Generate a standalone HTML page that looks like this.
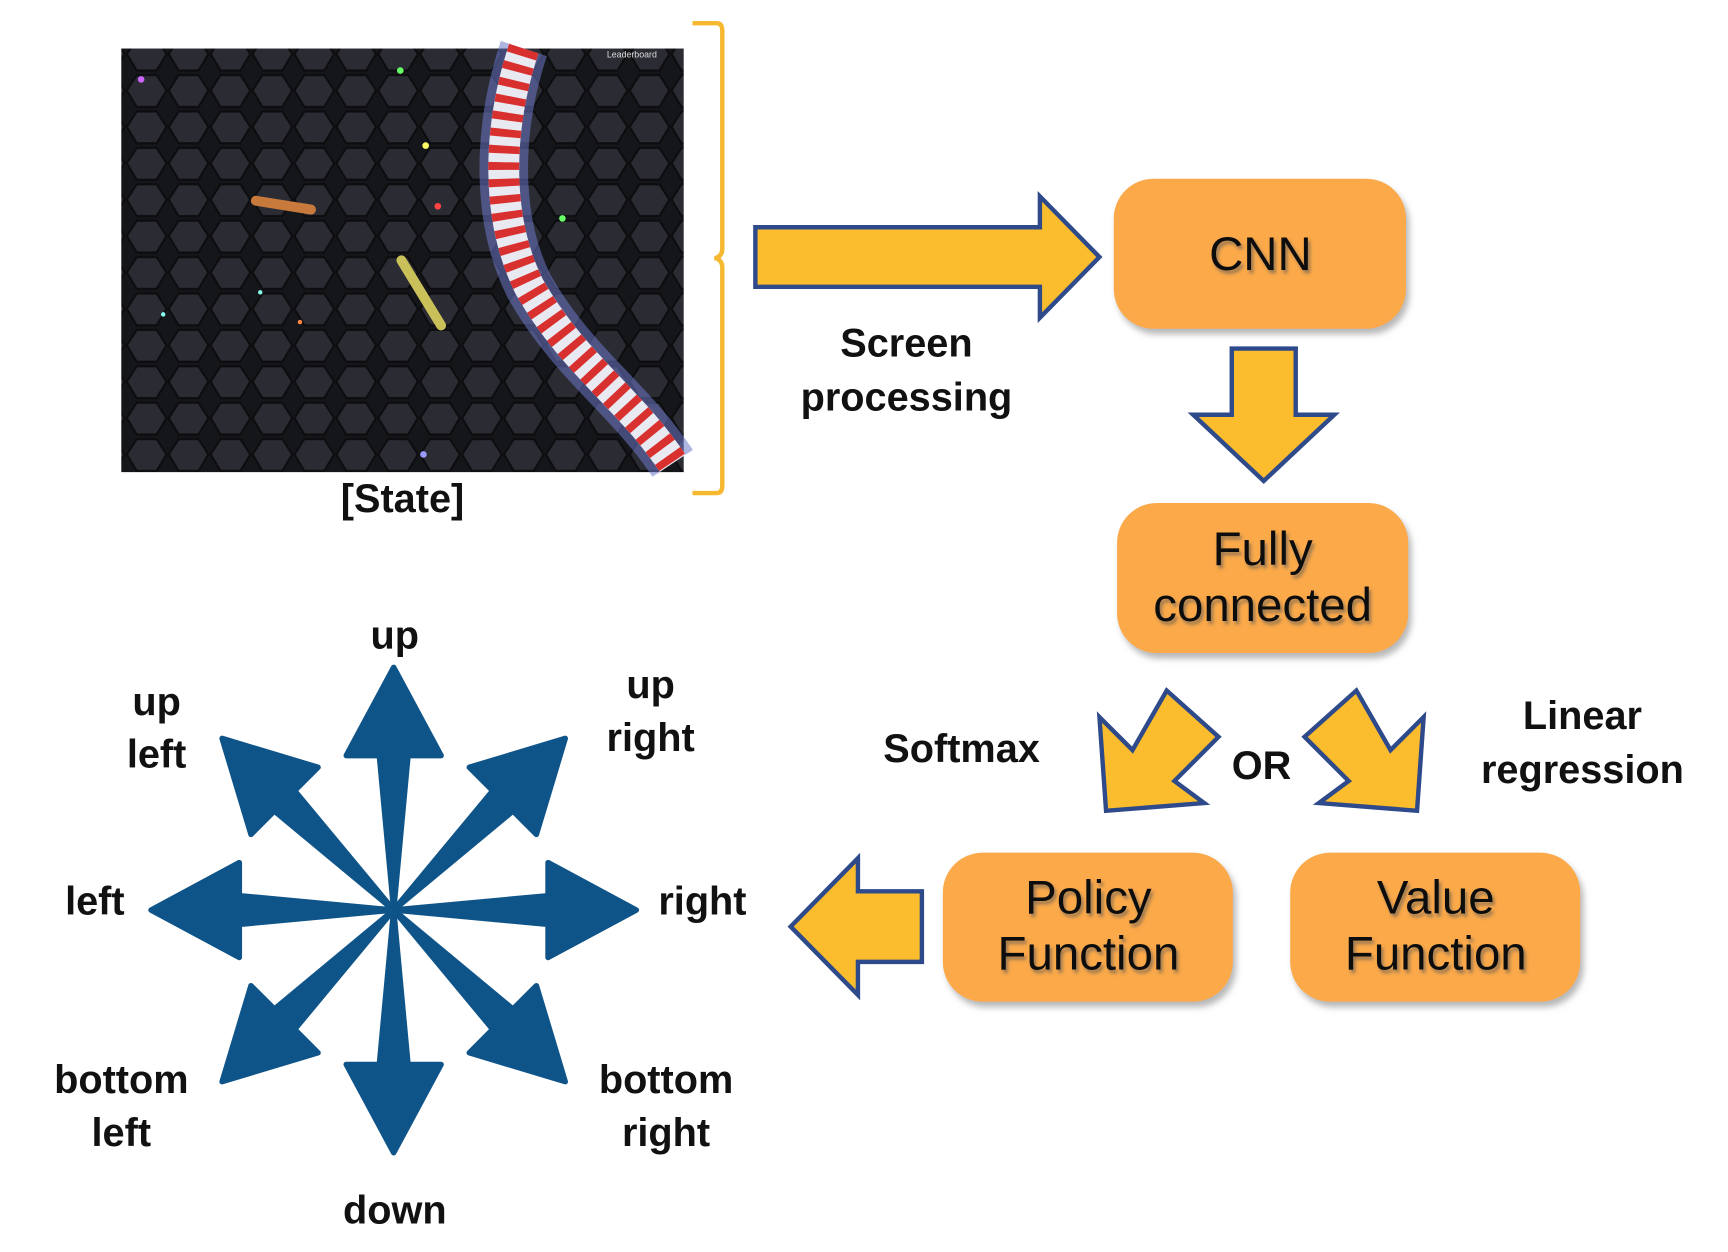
<!DOCTYPE html>
<html><head><meta charset="utf-8"><style>
html,body{margin:0;padding:0;background:#fff;}
svg{display:block;}
text{font-family:"Liberation Sans",sans-serif;}
.lb{font-weight:bold;font-size:36px;fill:#111;text-anchor:middle;}
.bx{font-size:43px;fill:#111;text-anchor:middle;}
</style></head><body>
<svg width="1728" height="1252" viewBox="0 0 1567 1135" preserveAspectRatio="none">
<defs>
<pattern id="hex" width="38" height="33" patternUnits="userSpaceOnUse">
<rect width="38" height="33" fill="#15161a"/>
<polygon points="10,2 28,2 37,16 28,31 10,31 1,16" fill="#2b2c33" stroke="#0d0d10" stroke-width="2"/>
</pattern>
<filter id="sh" x="-10%" y="-10%" width="125%" height="130%"><feDropShadow dx="3" dy="5" stdDeviation="3" flood-color="#999" flood-opacity="0.7"/></filter>
<filter id="ts"><feDropShadow dx="2" dy="3" stdDeviation="1.5" flood-color="#555" flood-opacity="0.6"/></filter>
</defs>

<g>
<rect x="110" y="44" width="510" height="384" fill="url(#hex)"/>
<path d="M475,44 C450,120 450,200 480,260 C520,330 570,360 610,420" fill="none" stroke="#6c78c8" stroke-width="44" opacity="0.55"/>
<path d="M475,44 C450,120 450,200 480,260 C520,330 570,360 610,420" fill="none" stroke="#e9e9f2" stroke-width="28"/>
<path d="M475,44 C450,120 450,200 480,260 C520,330 570,360 610,420" fill="none" stroke="#d8302e" stroke-width="28" stroke-dasharray="7 8"/>
<line x1="232" y1="182" x2="282" y2="190" stroke="#c87a3c" stroke-width="9" stroke-linecap="round"/>
<line x1="364" y1="236" x2="400" y2="295" stroke="#c9c05a" stroke-width="9" stroke-linecap="round"/>
<circle cx="363" cy="64" r="3" fill="#6f6"/><circle cx="386" cy="132" r="3" fill="#ff6"/><circle cx="397" cy="187" r="3" fill="#f44"/>
<circle cx="128" cy="72" r="3" fill="#c6f"/><circle cx="510" cy="198" r="3" fill="#6f6"/><circle cx="236" cy="265" r="2" fill="#8fe"/>
<circle cx="148" cy="285" r="2" fill="#8fe"/><circle cx="272" cy="292" r="2" fill="#f84"/><circle cx="384" cy="412" r="3" fill="#99f"/>
<text x="573" y="52" font-size="8" fill="#ddd" text-anchor="middle">Leaderboard</text>
</g>
<text class="lb" x="365" y="464">[State]</text>
<path d="M628,21 L650,21 Q655,21 655,28 L655,225 Q655,233 648,234 Q655,235 655,243 L655,440 Q655,447 650,447 L628,447" fill="none" stroke="#f5b82e" stroke-width="4"/>

<g stroke="#2e4a8a" stroke-width="4" fill="#fbbd2d" stroke-linejoin="miter">
<polygon points="685,206 943,206 943,178 997,233 943,288 943,260 685,260"/>
<polygon points="1117,316 1175,316 1175,376 1210,376 1146,436 1082,376 1117,376"/>
<polygon points="997,650 1027,680 1058,626 1105,668 1065,708 1092,728 1003,735"/>
<polygon points="1291,650 1261,680 1230,626 1183,668 1223,708 1196,728 1285,735"/>
<polygon points="836,808 778,808 778,778 717,840 778,902 778,872 836,872"/>
</g>

<text class="lb" x="822" y="323">Screen</text>
<text class="lb" x="822" y="372">processing</text>
<text class="lb" x="872" y="691">Softmax</text>
<text class="lb" x="1144" y="706">OR</text>
<text class="lb" x="1435" y="661">Linear</text>
<text class="lb" x="1435" y="710">regression</text>

<g fill="#fba94a" filter="url(#sh)">
<rect x="1010" y="162" width="265" height="136" rx="36"/>
<rect x="1013" y="456" width="264" height="136" rx="36"/>
<rect x="855" y="773" width="263" height="135" rx="36"/>
<rect x="1170" y="773" width="263" height="135" rx="36"/>
</g>
<g filter="url(#ts)">
<text class="bx" x="1143" y="245">CNN</text>
<text class="bx" x="1145" y="512">Fully</text>
<text class="bx" x="1145" y="563">connected</text>
<text class="bx" x="987" y="828">Policy</text>
<text class="bx" x="987" y="879">Function</text>
<text class="bx" x="1302" y="828">Value</text>
<text class="bx" x="1302" y="879">Function</text>
</g>

<g fill="#0f5489" id="star"></g>

<text class="lb" x="358" y="588">up</text>
<text class="lb" x="142" y="648">up</text>
<text class="lb" x="142" y="696">left</text>
<text class="lb" x="590" y="633">up</text>
<text class="lb" x="590" y="681">right</text>
<text class="lb" x="86" y="829">left</text>
<text class="lb" x="637" y="829">right</text>
<text class="lb" x="110" y="991">bottom</text>
<text class="lb" x="110" y="1039">left</text>
<text class="lb" x="604" y="991">bottom</text>
<text class="lb" x="604" y="1039">right</text>
<text class="lb" x="358" y="1109">down</text>
</svg>
<script>
const directions=['up','up-right','right','bottom-right','down','bottom-left','left','up-left'];
const angles=[0,45,90,135,180,225,270,315];
const g=document.getElementById('star');
const cx=357,cy=825;
for(let i=0;i<angles.length;i++){
  const p=document.createElementNS('http://www.w3.org/2000/svg','polygon');
  p.setAttribute('points','0,0 -13,-140 -43,-140 0,-220 43,-140 13,-140');
  p.setAttribute('transform','translate('+cx+','+cy+') rotate('+angles[i]+')');
  p.setAttribute('stroke-linejoin','round');
  p.setAttribute('stroke','#0f5489');
  p.setAttribute('stroke-width','5');
  
  
  g.appendChild(p);
}
</script>
</body></html>
